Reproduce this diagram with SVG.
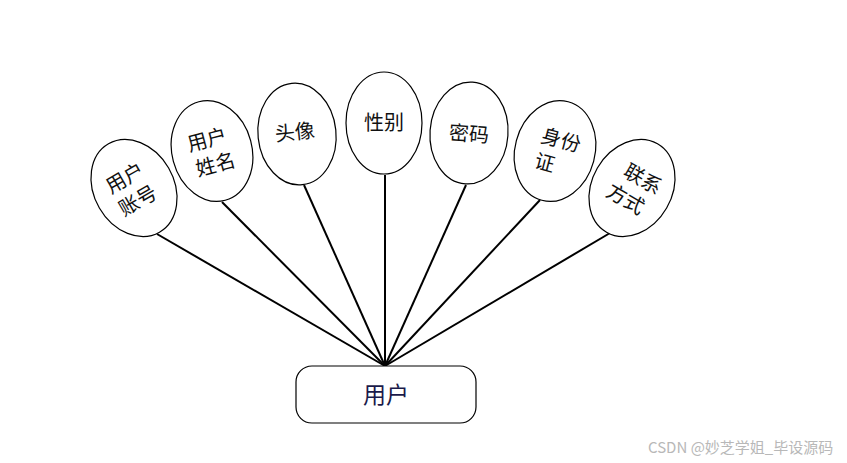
<svg xmlns="http://www.w3.org/2000/svg" width="847" height="463" viewBox="0 0 847 463">
<style>
.attr ellipse{fill:#fff;stroke:#000;stroke-width:1.2}
text{font-family:"Noto Sans CJK SC","Liberation Sans",sans-serif;font-size:20px;fill:#111;text-anchor:middle}
.conn line{stroke:#000;stroke-width:2}
.wm{font-size:15px;fill:#b8b8b8;text-anchor:start}
</style>
<rect width="847" height="463" fill="#fff"/>
<g class="conn" id="connectors">
<line x1="157" y1="234" x2="385" y2="366"/>
<line x1="222" y1="202" x2="385" y2="366"/>
<line x1="304" y1="185" x2="385" y2="366"/>
<line x1="385" y1="175" x2="385" y2="366"/>
<line x1="466" y1="185" x2="385" y2="366"/>
<line x1="540" y1="200" x2="385" y2="366"/>
<line x1="610" y1="233" x2="385" y2="366"/>
</g>
<g class="attr" id="attr-account" transform="rotate(-30 134 188)">
<ellipse cx="134" cy="188" rx="40" ry="51"/>
<text x="131" y="182">用户</text>
<text x="131" y="208">账号</text>
</g>
<g class="attr" id="attr-name" transform="rotate(-15 212 151)">
<ellipse cx="212" cy="151" rx="40" ry="51"/>
<text x="210" y="146">用户</text>
<text x="212" y="172">姓名</text>
</g>
<g class="attr" id="attr-avatar" transform="rotate(-6 297 134)">
<ellipse cx="297" cy="134" rx="39" ry="51"/>
<text x="295" y="139">头像</text>
</g>
<g class="attr" id="attr-gender">
<ellipse cx="384" cy="123" rx="38" ry="51"/>
<text x="384" y="130">性别</text>
</g>
<g class="attr" id="attr-password" transform="rotate(4 469 133)">
<ellipse cx="469" cy="133" rx="39" ry="51"/>
<text x="469" y="141">密码</text>
</g>
<g class="attr" id="attr-idcard" transform="rotate(15 555 151)">
<ellipse cx="555" cy="151" rx="40" ry="51"/>
<text x="558" y="146">身份</text>
<text x="548" y="172">证</text>
</g>
<g class="attr" id="attr-contact" transform="rotate(30 632 188)">
<ellipse cx="632" cy="188" rx="40" ry="51"/>
<text x="637" y="182">联系</text>
<text x="632" y="208">方式</text>
</g>
<g id="entity-user">
<rect x="296" y="366" width="180" height="57" rx="16" fill="#fff" stroke="#000" stroke-width="1.2"/>
<text x="386" y="403" style="font-size:23px;fill:#1a1a4a">用户</text>
</g>
<text class="wm" x="648" y="453">CSDN @妙芝学姐_毕设源码</text>
</svg>
